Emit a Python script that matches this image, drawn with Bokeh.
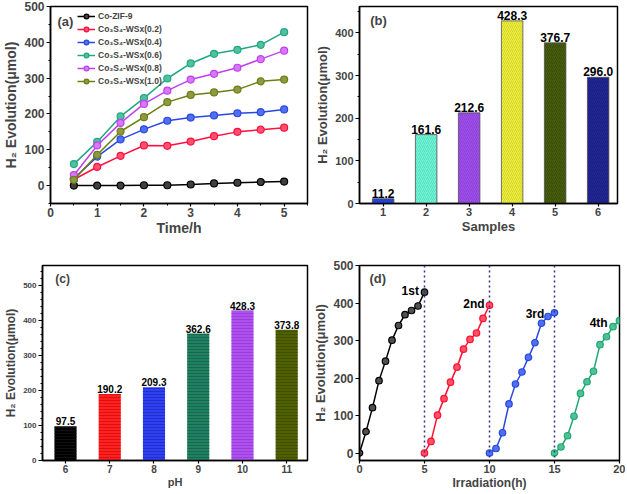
from bokeh.plotting import figure
from bokeh.models import ColumnDataSource, FixedTicker, Range1d, Span, Label
from bokeh.layouts import column, row
from bokeh.embed import file_html
from bokeh.resources import INLINE
from bokeh.core.properties import value

FONT = "Liberation Sans"

# ---------- data ----------
# (a) H2 evolution vs time
time_h = [0.5, 1.0, 1.5, 2.0, 2.5, 3.0, 3.5, 4.0, 4.5, 5.0]
co_zif9 = [0, 0, 0, 1, 1, 3, 6, 8, 10, 11.2]
wsx_02 = [17, 52, 83, 112, 111, 123, 138, 150, 156, 161.6]
wsx_04 = [20, 81, 129, 157, 181, 190, 196, 202, 205, 212.6]
wsx_06 = [60, 122, 193, 244, 299, 341, 368, 379, 393, 428.3]
wsx_08 = [29, 112, 175, 228, 265, 296, 312, 329, 353, 376.7]
wsx_10 = [16, 86, 151, 191, 233, 253, 260, 268, 291, 296.0]
series_names = ["Co-ZIF-9", "Co₃S₄-WSx(0.2)", "Co₃S₄-WSx(0.4)",
                "Co₃S₄-WSx(0.6)", "Co₃S₄-WSx(0.8)", "Co₃S₄-WSx(1.0)"]
series_colors = ["#000000", "#ff1040", "#2848e0", "#20a880", "#c040f0", "#6a8010"]
series_fill = ["#404040", "#ff5070", "#5070f0", "#50c0a0", "#d878f8", "#909848"]

# (b) samples
samples = [1, 2, 3, 4, 5, 6]
sample_vals = [11.2, 161.6, 212.6, 428.3, 376.7, 296.0]
sample_labels = ["11.2", "161.6", "212.6", "428.3", "376.7", "296.0"]
sample_colors = ["#2848e8", "#70f8d8", "#a050f0", "#f0f040", "#4a6010", "#202898"]
sample_hatch = ["#1028a0", "#40b898", "#7030b0", "#b0b010", "#203000", "#101060"]

# (c) pH
ph = [6, 7, 8, 9, 10, 11]
ph_vals = [97.5, 190.2, 209.3, 362.6, 428.3, 373.8]
ph_labels = ["97.5", "190.2", "209.3", "362.6", "428.3", "373.8"]
ph_colors = ["#000000", "#ff2020", "#3040f0", "#208060", "#b050f0", "#506000"]
ph_hatch = ["#202020", "#c00000", "#1020b0", "#105040", "#8030c0", "#304000"]

# (d) cycling
cyc1_x = [0, 0.5, 1, 1.5, 2, 2.5, 3, 3.5, 4, 4.5, 5]
cyc1_y = [0, 57, 121, 193, 245, 301, 340, 369, 380, 392, 429]
cyc2_x = [5, 5.5, 6, 6.5, 7, 7.5, 8, 8.5, 9, 9.5, 10]
cyc2_y = [0, 31, 101, 145, 189, 229, 277, 303, 320, 359, 394]
cyc3_x = [10, 10.5, 11, 11.5, 12, 12.5, 13, 13.5, 14, 14.5, 15]
cyc3_y = [0, 12, 54, 131, 184, 216, 255, 294, 346, 364, 374]
cyc4_x = [15, 15.5, 16, 16.5, 17, 17.5, 18, 18.5, 19, 19.5, 20]
cyc4_y = [0, 16, 46, 98, 159, 190, 218, 289, 310, 337, 353]
cyc_colors = ["#000000", "#ff1030", "#2848e0", "#20a870"]
cyc_fill = ["#505050", "#ff5068", "#5070f0", "#50c098"]
cyc_names = ["1st", "2nd", "3rd", "4th"]
cyc_label_x = [3.9, 8.8, 13.5, 18.4]
cyc_label_y = [432, 398, 372, 347]
cyc_breaks = [5, 10, 15]

YLABEL = "H₂ Evolution(μmol)"


def style(p, tick_size, label_size, ytick_size=None):
    p.outline_line_color = "black"
    p.outline_line_width = 1.5
    p.xgrid.visible = False
    p.ygrid.visible = False
    p.background_fill_color = "white"
    p.border_fill_color = "white"
    for ax in (p.xaxis[0], p.yaxis[0]):
        ax.axis_line_width = 1.5
        ax.major_tick_in = 0
        ax.major_tick_out = 4
        ax.minor_tick_in = 0
        ax.minor_tick_out = 2
        ax.major_tick_line_width = 1.2
        ax.major_label_text_font = FONT
        ax.major_label_text_font_style = "bold"
        ax.major_label_text_font_size = tick_size
        ax.axis_label_text_font = FONT
        ax.axis_label_text_font_style = "bold"
        ax.axis_label_text_font_size = label_size
        ax.axis_label_standoff = 2
        ax.major_label_standoff = 2
    p.xaxis[0].axis_label_standoff = 0
    p.xaxis[0].major_label_standoff = 1
    p.xaxis[0].major_tick_out = 3
    if ytick_size:
        p.yaxis[0].major_label_text_font_size = ytick_size


def panel_label(p, txt, x, y, size="13px"):
    p.add_layout(Label(x=x, y=y, text=txt, text_font=FONT, text_font_style="bold",
                       text_font_size=size, text_baseline="middle", text_align="left"))


# ---------- (a) ----------
pa = figure(width=310, height=245, output_backend="svg", toolbar_location=None,
            x_range=Range1d(0, 5.5), y_range=Range1d(-50, 500),
            min_border_left=48, min_border_right=3, min_border_top=6, min_border_bottom=42,
            x_axis_label="Time/h", y_axis_label=YLABEL)
style(pa, "12px", "14px")
pa.xaxis.ticker = FixedTicker(ticks=[0, 1, 2, 3, 4, 5], minor_ticks=[0.5, 1.5, 2.5, 3.5, 4.5, 5.5])
pa.yaxis.ticker = FixedTicker(ticks=[0, 100, 200, 300, 400, 500],
                              minor_ticks=[-50, 50, 150, 250, 350, 450])
for ys, name, col, fc in zip([co_zif9, wsx_02, wsx_04, wsx_06, wsx_08, wsx_10],
                             series_names, series_colors, series_fill):
    src = ColumnDataSource(dict(x=time_h, y=ys))
    pa.line("x", "y", source=src, line_color=col, line_width=1.5, legend_label=name)
    pa.scatter("x", "y", source=src, size=7, fill_color=fc, line_color=col,
               line_width=1.2, legend_label=name)
lg = pa.legend[0]
lg.location = (27, 116)
lg.margin = 0
lg.padding = 0
lg.spacing = 1
lg.label_height = 12
lg.glyph_height = 12
lg.glyph_width = 18
lg.label_standoff = 3
lg.background_fill_alpha = 0
lg.border_line_alpha = 0
lg.label_text_font = FONT
lg.label_text_font_style = "bold"
lg.label_text_font_size = "8.5px"
panel_label(pa, "(a)", 0.15, 458)

# ---------- (b) ----------
pb = figure(width=315, height=245, output_backend="svg", toolbar_location=None,
            x_range=Range1d(0.45, 6.45), y_range=Range1d(0, 462),
            min_border_left=49, min_border_right=8, min_border_top=4, min_border_bottom=41,
            x_axis_label="Samples", y_axis_label=YLABEL)
style(pb, "11px", "13px")
pb.xaxis.ticker = FixedTicker(ticks=samples)
pb.yaxis.ticker = FixedTicker(ticks=[0, 100, 200, 300, 400],
                              minor_ticks=[50, 150, 250, 350, 450])
srcb = ColumnDataSource(dict(x=samples, top=sample_vals, lab=sample_labels,
                             c=sample_colors, h=sample_hatch))
pb.vbar(x="x", top="top", width=0.5, source=srcb, fill_color="c", line_color="#505050",
        line_width=0.8, hatch_pattern="right_diagonal_line", hatch_color="h",
        hatch_alpha=0.45, hatch_scale=4, hatch_weight=1)
pb.text(x="x", y="top", text="lab", source=srcb, text_align="center",
        text_baseline="bottom", y_offset=-1, text_font=value(FONT),
        text_font_style="bold", text_font_size="12px")
panel_label(pb, "(b)", 0.70, 430)

# ---------- (c) ----------
pc = figure(width=310, height=247, output_backend="svg", toolbar_location=None,
            x_range=Range1d(5.48, 11.47), y_range=Range1d(0, 557),
            min_border_left=42, min_border_right=3, min_border_top=18, min_border_bottom=29,
            x_axis_label="pH", y_axis_label=YLABEL)
style(pc, "10px", "11px", ytick_size="8px")
pc.yaxis[0].axis_label_text_font_size = "12px"
pc.xaxis.ticker = FixedTicker(ticks=ph)
pc.yaxis.ticker = FixedTicker(ticks=[0, 100, 200, 300, 400, 500],
                              minor_ticks=[v for v in range(20, 560, 20) if v % 100])
srcc = ColumnDataSource(dict(x=ph, top=ph_vals, lab=ph_labels, c=ph_colors, h=ph_hatch))
pc.vbar(x="x", top="top", width=0.5, source=srcc, fill_color="c", line_color=None,
        hatch_pattern="horizontal_line", hatch_color="h", hatch_alpha=0.5,
        hatch_scale=3, hatch_weight=1)
pc.text(x="x", y="top", text="lab", source=srcc, text_align="center",
        text_baseline="bottom", y_offset=-1, text_font=value(FONT),
        text_font_style="bold", text_font_size="10px")
panel_label(pc, "(c)", 5.77, 518, size="12px")

# ---------- (d) ----------
pd = figure(width=315, height=247, output_backend="svg", toolbar_location=None,
            x_range=Range1d(0, 20), y_range=Range1d(-20, 500),
            min_border_left=49, min_border_right=6, min_border_top=20, min_border_bottom=31,
            x_axis_label="Irradiation(h)", y_axis_label=YLABEL)
style(pd, "11px", "12px")
pd.yaxis[0].major_label_text_font_size = "12px"
pd.yaxis[0].axis_label_text_font_size = "13px"
pd.xaxis.ticker = FixedTicker(ticks=[0, 5, 10, 15, 20])
pd.yaxis.ticker = FixedTicker(ticks=[0, 100, 200, 300, 400, 500])
for xb in cyc_breaks:
    pd.add_layout(Span(location=xb, dimension="height", line_color="#303080",
                       line_dash="2 3", line_width=1.5))
for xs, ys, col, fc in zip([cyc1_x, cyc2_x, cyc3_x, cyc4_x],
                           [cyc1_y, cyc2_y, cyc3_y, cyc4_y], cyc_colors, cyc_fill):
    src = ColumnDataSource(dict(x=xs, y=ys))
    pd.line("x", "y", source=src, line_color=col, line_width=1.5)
    pd.scatter("x", "y", source=src, size=6.5, fill_color=fc, line_color=col, line_width=1.2)
srcd = ColumnDataSource(dict(x=cyc_label_x, y=cyc_label_y, t=cyc_names))
pd.text(x="x", y="y", text="t", source=srcd, text_align="center", text_baseline="middle",
        text_font=value(FONT), text_font_style="bold", text_font_size="12px")
panel_label(pd, "(d)", 0.77, 465)

layout = column(row(pa, pb), row(pc, pd))
open("out.html", "w").write(file_html(layout, INLINE))
